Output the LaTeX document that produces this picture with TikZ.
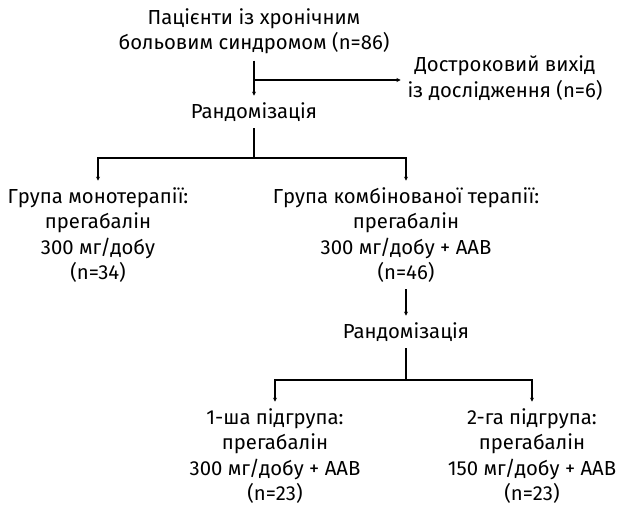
\documentclass[tikz,border=0pt]{standalone}
\usepackage{fontspec}
\setmainfont{Fira Sans}
\usetikzlibrary{arrows.meta}
\tikzset{
  txt/.style={align=center, inner sep=2pt, outer sep=5pt,
    font=\fontsize{20.3}{25.3}\selectfont},
  arr/.style={-{Stealth[length=4pt,width=4pt]}},
}

\begin{document}
\begin{tikzpicture}[x=1pt, y=-1pt, line width=1.2pt]
         \useasboundingbox (0,0) rectangle (624,517);
         \node[txt] (Top) at (254, 31) {Пацієнти із хронічним\\больовим синдромом (n=86)};
         \node[txt] (Drop) at (505, 78) {Достроковий вихід\\із дослідження (n=6)};
         \node[txt] (RandA) at (254, 112) {Рандомізація};
         \node[txt] (Mono) at (98, 235) {Група монотерапії:\\прегабалін\\300 мг/добу\\(n=34)};
         \node[txt] (Comb) at (406, 235) {Група комбінованої терапії:\\прегабалін\\300 мг/добу + ААВ\\(n=46)};
         \node[txt] (RandB) at (406, 332) {Рандомізація};
         \node[txt] (SubA) at (275, 456) {1-ша підгрупа:\\прегабалін\\300 мг/добу + ААВ\\(n=23)};
         \node[txt] (SubB) at (532, 456) {2-га підгрупа:\\прегабалін\\150 мг/добу + ААВ\\(n=23)};
         \coordinate (ForkTop) at (Top.south |- 0, 80);
         \coordinate (ForkA) at (RandA.south |- 0, 158);
         \coordinate (ForkB) at (RandB.south |- 0, 380);
         \draw [arr] (Top) -- (RandA);
         \draw [arr] (ForkTop) -- (Drop.west |- ForkTop);
         \draw (RandA) -- (ForkA);
         \draw [arr] (ForkA) -| (Mono);
         \draw [arr] (ForkA) -| (Comb);
         \draw [arr] (Comb) -- (RandB);
         \draw (RandB) -- (ForkB);
         \draw [arr] (ForkB) -| (SubA);
         \draw [arr] (ForkB) -| (SubB);
 \end{tikzpicture}
\end{document}
